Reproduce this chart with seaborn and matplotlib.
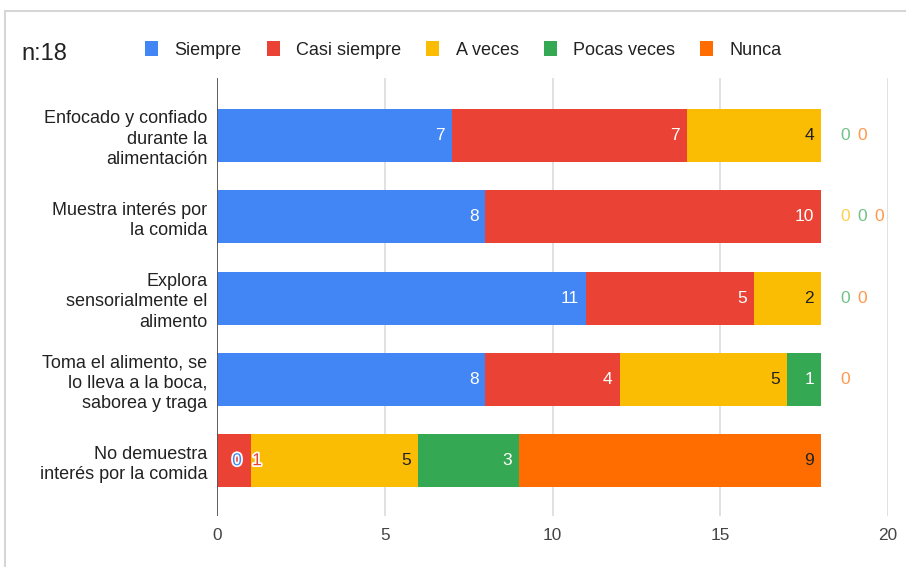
import matplotlib
matplotlib.use("Agg")
import matplotlib.pyplot as plt
import matplotlib.patheffects as pe
from matplotlib.patches import Patch
from matplotlib.lines import Line2D
import seaborn as sns
import pandas as pd
import numpy as np

# ---------------- data ----------------
categories = [
    "Enfocado y confiado\ndurante la\nalimentación",
    "Muestra interés por\nla comida",
    "Explora\nsensorialmente el\nalimento",
    "Toma el alimento, se\nlo lleva a la boca,\nsaborea y traga",
    "No demuestra\ninterés por la comida",
]
series = ["Siempre", "Casi siempre", "A veces", "Pocas veces", "Nunca"]
siempre = [7, 8, 11, 8, 0]
casi_siempre = [7, 10, 5, 4, 1]
a_veces = [4, 0, 2, 5, 5]
pocas_veces = [0, 0, 0, 1, 3]
nunca = [0, 0, 0, 0, 9]
title_text = "n:18"
xticks = [0, 5, 10, 15, 20]

colors = ["#4285F4", "#EA4335", "#FBBC04", "#34A853", "#FF6D01"]
label_colors = ["white", "white", "#222222", "white", "#222222"]

values = [siempre, casi_siempre, a_veces, pocas_veces, nunca]
df = pd.DataFrame({s: v for s, v in zip(series, values)})
df["categoria"] = categories
cum = df[series].cumsum(axis=1)

# ---------------- style ----------------
sns.set_theme(style="white")
plt.rcParams["font.family"] = ["Liberation Sans", "DejaVu Sans"]

W, H = 906, 567
fig = plt.figure(figsize=(W / 100, H / 100), dpi=100)
ax_l, ax_r, ax_t, ax_b = 217, 888, 78, 516
ax = fig.add_axes([ax_l / W, 1 - ax_b / H, (ax_r - ax_l) / W, (ax_b - ax_t) / H])

# stacked bars by overdrawing cumulative totals (largest first)
for i in range(len(series) - 1, -1, -1):
    plot_df = pd.DataFrame({"categoria": categories, "valor": cum[series[i]].values})
    sns.barplot(data=plot_df, x="valor", y="categoria", orient="h",
                color=colors[i], saturation=1, width=0.652, linewidth=0,
                errorbar=None, ax=ax, zorder=3)

ax.set_xlim(0, 20)
ax.set_ylim(4.68, -0.71)
ax.set_xticks(xticks)
ax.set_xticklabels([str(t) for t in xticks])
ax.set_xlabel("")
ax.set_ylabel("")
ax.xaxis.grid(True, color="#dcdcdc", linewidth=1.2, zorder=0)
ax.yaxis.grid(False)
for sp in ax.spines.values():
    sp.set_visible(False)
ax.axvline(0, color="#555555", linewidth=1.3, zorder=4)
ax.tick_params(axis="x", length=0, pad=9, labelsize=12.4, labelcolor="#444444")
ax.tick_params(axis="y", length=0, pad=7, labelsize=13, labelcolor="#222222")
for t in ax.get_yticklabels():
    t.set_linespacing(1.27)
    t.set_horizontalalignment("right")

# ---------------- value labels ----------------
ppu = (ax_r - ax_l) / 20.0  # pixels per data unit
px = 1.0 / ppu
stroke = [pe.withStroke(linewidth=2.5, foreground="white")]
fs = 12.5
for r in range(len(categories)):
    vals = [values[i][r] for i in range(len(series))]
    total = sum(vals)
    c = 0
    last_center = -1e9
    after = total * ppu + 24
    for i, v in enumerate(vals):
        trailing = all(x == 0 for x in vals[i:])
        if v == 0 and trailing:
            ax.text(after * px, r, "0", ha="center", va="center", fontsize=fs,
                    color=colors[i], alpha=0.7, zorder=6)
            after += 17
        elif v == 0:
            xc = c * ppu + 20
            ax.text(xc * px, r, "0", ha="center", va="center", fontsize=fs,
                    color=colors[i], path_effects=stroke, zorder=6)
            last_center = xc
        else:
            end_px = (c + v) * ppu - 7
            wtxt = 9.5 * len(str(v))
            center = end_px - wtxt / 2
            if center < last_center + 14:
                xc = last_center + 20
                ax.text(xc * px, r, str(v), ha="center", va="center", fontsize=fs,
                        color=colors[i], path_effects=stroke, zorder=6)
                last_center = xc
            else:
                ax.text(end_px * px, r, str(v), ha="right", va="center", fontsize=fs,
                        color=label_colors[i], zorder=6)
                last_center = center
        c += v

# ---------------- legend & title ----------------
handles = [Patch(facecolor=col, edgecolor="none", label=s) for s, col in zip(series, colors)]
fig.legend(handles=handles, loc="center left", bbox_to_anchor=(145 / W, 1 - 50 / H),
           ncol=5, frameon=False, fontsize=13, handlelength=0.72, handleheight=0.85,
           handletextpad=0.9, columnspacing=1.4, borderpad=0, borderaxespad=0,
           labelcolor="#222222")
fig.text(21 / W, 1 - 54 / H, title_text, fontsize=17, color="#222222",
         ha="left", va="center")

# outer frame (left & top edges)
fig.add_artist(Line2D([5 / W, 5 / W], [0, 1 - 11 / H], transform=fig.transFigure,
                      color="#d6d6d6", linewidth=1.5))
fig.add_artist(Line2D([5 / W, 1], [1 - 11 / H, 1 - 11 / H], transform=fig.transFigure,
                      color="#d6d6d6", linewidth=1.5))

fig.savefig("out.png", dpi=100, facecolor="white")
